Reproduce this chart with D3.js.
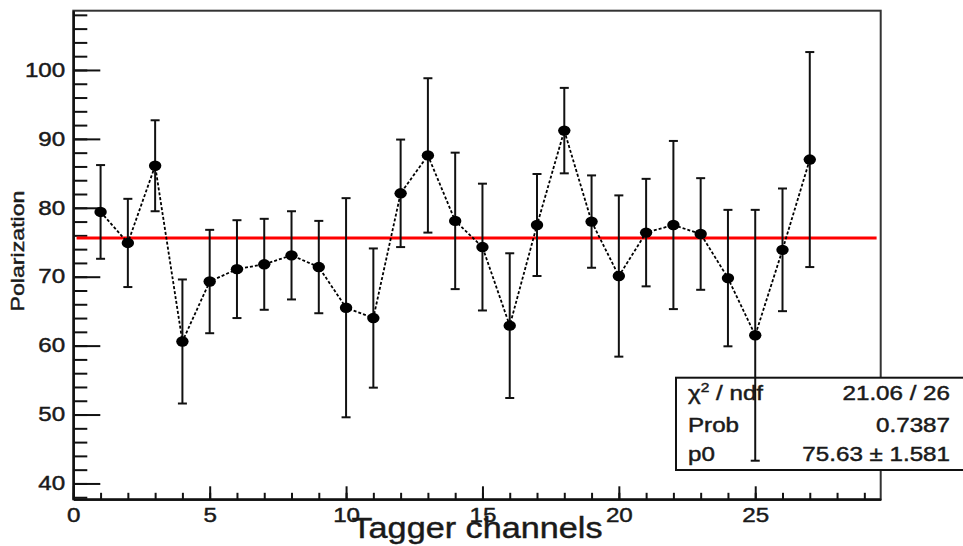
<!DOCTYPE html>
<html>
<head>
<meta charset="utf-8">
<script src="https://cdn.jsdelivr.net/npm/d3@7"></script>
<style>
  body { margin: 0; background: #fff; }
  text { font-family: "Liberation Sans", Arial, Helvetica, sans-serif; fill: #1a1a1a; stroke: #1a1a1a; stroke-width: 0.45px; }
</style>
</head>
<body>
<div id="chart"></div>
<script>
// Tagger channel number and measured polarization (with error)
const channels = [1, 2, 3, 4, 5, 6, 7, 8, 9, 10, 11, 12, 13, 14, 15, 16, 17, 18, 19, 20, 21, 22, 23, 24, 25, 26, 27]
const polarization = [79.4, 74.9, 86.1, 60.6, 69.3, 71.1, 71.8, 73.1, 71.4, 65.5, 64.0, 82.1, 87.6, 78.1, 74.3, 62.9, 77.5, 91.2, 78.0, 70.1, 76.4, 77.5, 76.2, 69.8, 61.5, 73.9, 87.0]
const errors = [6.8, 6.4, 6.6, 9.0, 7.5, 7.1, 6.6, 6.4, 6.7, 15.9, 10.1, 7.8, 11.2, 9.9, 9.2, 10.5, 7.4, 6.2, 6.7, 11.7, 7.8, 12.2, 8.1, 9.9, 18.2, 8.9, 15.6]

// constant fit p0
const fitValue = 75.63
const fitRange = [0.12, 29.45]

const xTicks = [0, 5, 10, 15, 20, 25]
const yTicks = [40, 50, 60, 70, 80, 90, 100]

const statsLabels = ['χ2 / ndf', 'Prob', 'p0']
const statsValues = ['21.06 / 26', '0.7387', '75.63 ± 1.581']

const width = 963
const height = 546
const stretch = 'scale(1.24,1)'

const svg = d3
  .select('#chart')
  .append('svg')
  .attr('width', width)
  .attr('height', height)

const xPositionScale = d3.scaleLinear().domain([0, 29.6]).range([73.3, 880.7])
const yPositionScale = d3.scaleLinear().domain([37.7, 108.6]).range([499.3, 10.7])

const [x0, x1] = xPositionScale.range()
const [y0, y1] = yPositionScale.range()

// frame
svg
  .append('rect')
  .attr('x', x0)
  .attr('y', y1)
  .attr('width', x1 - x0)
  .attr('height', y0 - y1)
  .attr('fill', 'none')
  .attr('stroke', '#333')
  .attr('stroke-width', 2)

// x axis, major + minor ticks pointing inward
const xAxis = d3
  .axisBottom(xPositionScale)
  .tickValues(xTicks)
  .tickSizeInner(-13)
  .tickSizeOuter(0)
  .tickPadding(9)
  .tickFormat(d3.format('d'))

const xg = svg
  .append('g')
  .attr('class', 'axis x-axis')
  .attr('transform', 'translate(0,' + y0 + ')')
  .call(xAxis)

xg.selectAll('text')
  .attr('font-size', 19.5)
  .attr('transform', stretch)

svg
  .append('g')
  .attr('class', 'axis x-minor')
  .attr('transform', 'translate(0,' + y0 + ')')
  .call(
    d3
      .axisBottom(xPositionScale)
      .tickValues(d3.range(0, 30, 1))
      .tickSizeInner(-6.5)
      .tickSizeOuter(0)
      .tickFormat('')
  )

// y axis
const yAxis = d3
  .axisLeft(yPositionScale)
  .tickValues(yTicks)
  .tickSizeInner(-27)
  .tickSizeOuter(0)
  .tickPadding(6.5)

const yg = svg
  .append('g')
  .attr('class', 'axis y-axis')
  .attr('transform', 'translate(' + x0 + ',0)')
  .call(yAxis)

yg.selectAll('text')
  .attr('font-size', 19.5)
  .attr('transform', stretch)

svg
  .append('g')
  .attr('class', 'axis y-minor')
  .attr('transform', 'translate(' + x0 + ',0)')
  .call(
    d3
      .axisLeft(yPositionScale)
      .tickValues(d3.range(38, 109, 2))
      .tickSizeInner(-14)
      .tickSizeOuter(0)
      .tickFormat('')
  )

svg.selectAll('.axis .domain').attr('stroke', '#111').attr('stroke-width', 2)
svg.selectAll('.axis .tick line').attr('stroke', '#111').attr('stroke-width', 2)

// axis titles
svg
  .append('text')
  .attr('x', (x0 + x1) / 2)
  .attr('y', 538)
  .attr('text-anchor', 'middle')
  .attr('font-size', 30)
  .attr('textLength', 251)
  .attr('lengthAdjust', 'spacingAndGlyphs')
  .text('Tagger channels')

svg
  .append('text')
  .attr('transform', 'translate(23.5,251) rotate(-90)')
  .attr('text-anchor', 'middle')
  .attr('font-size', 19)
  .attr('textLength', 121)
  .attr('lengthAdjust', 'spacingAndGlyphs')
  .text('Polarization')

// fit line
svg
  .append('line')
  .attr('x1', xPositionScale(fitRange[0]))
  .attr('x2', xPositionScale(fitRange[1]))
  .attr('y1', yPositionScale(fitValue))
  .attr('y2', yPositionScale(fitValue))
  .attr('stroke', '#ff0000')
  .attr('stroke-width', 3)

// stats box
const stats = svg.append('g').attr('class', 'stats')

stats
  .append('rect')
  .attr('x', 676)
  .attr('y', 377.7)
  .attr('width', 300)
  .attr('height', 92.3)
  .attr('fill', '#fff')
  .attr('stroke', '#111')
  .attr('stroke-width', 2)

const rowY = [400, 431.5, 460.5]

statsLabels.forEach((label, i) => {
  const t = stats
    .append('text')
    .attr('font-size', 19.5)
    .attr('transform', 'translate(688,' + rowY[i] + ') ' + stretch)
  if (label.startsWith('χ2')) {
    t.append('tspan').text('χ')
    t.append('tspan').attr('font-size', 12.5).attr('dy', -8).text('2')
    t.append('tspan').attr('dy', 8).text(' / ndf')
  } else {
    t.text(label)
  }
})

statsValues.forEach((value, i) => {
  stats
    .append('text')
    .attr('font-size', 19.5)
    .attr('text-anchor', 'end')
    .attr('transform', 'translate(950,' + rowY[i] + ') ' + stretch)
    .text(value)
})

// data
const datapoints = channels.map((c, i) => ({
  channel: c,
  value: polarization[i],
  error: errors[i]
}))

const line = d3
  .line()
  .x(d => xPositionScale(d.channel))
  .y(d => yPositionScale(d.value))

svg
  .append('path')
  .datum(datapoints)
  .attr('d', line)
  .attr('fill', 'none')
  .attr('stroke', '#000')
  .attr('stroke-width', 1.8)
  .attr('stroke-dasharray', '3,2')

const bars = svg
  .selectAll('.err')
  .data(datapoints)
  .enter()
  .append('g')
  .attr('class', 'err')
  .attr('stroke', '#111')
  .attr('stroke-width', 2)

bars
  .append('line')
  .attr('x1', d => xPositionScale(d.channel))
  .attr('x2', d => xPositionScale(d.channel))
  .attr('y1', d => yPositionScale(d.value - d.error))
  .attr('y2', d => yPositionScale(d.value + d.error))

bars
  .append('line')
  .attr('x1', d => xPositionScale(d.channel) - 4.5)
  .attr('x2', d => xPositionScale(d.channel) + 4.5)
  .attr('y1', d => yPositionScale(d.value - d.error))
  .attr('y2', d => yPositionScale(d.value - d.error))

bars
  .append('line')
  .attr('x1', d => xPositionScale(d.channel) - 4.5)
  .attr('x2', d => xPositionScale(d.channel) + 4.5)
  .attr('y1', d => yPositionScale(d.value + d.error))
  .attr('y2', d => yPositionScale(d.value + d.error))

svg
  .selectAll('.marker')
  .data(datapoints)
  .enter()
  .append('ellipse')
  .attr('class', 'marker')
  .attr('cx', d => xPositionScale(d.channel))
  .attr('cy', d => yPositionScale(d.value))
  .attr('rx', 6.2)
  .attr('ry', 5.2)
  .attr('fill', '#000')
</script>
</body>
</html>
